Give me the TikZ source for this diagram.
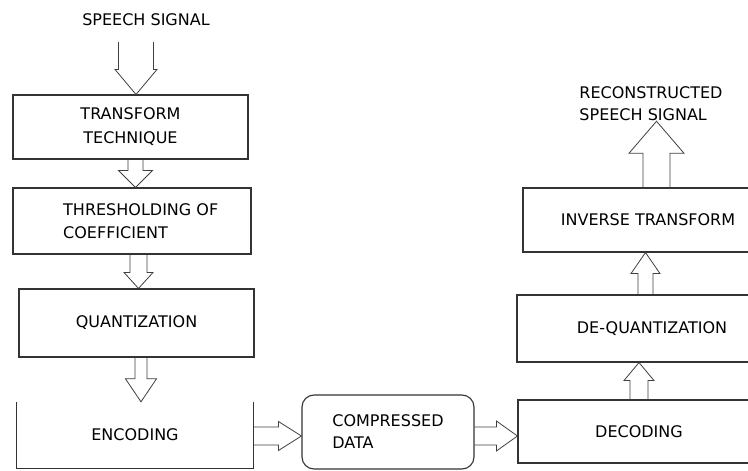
\documentclass[tikz,border=0pt]{standalone}
\usepackage{fontspec}
\setmainfont{DejaVu Sans}
\usetikzlibrary{calc}
\newcommand\lbl{\fontsize{16}{22}\selectfont}
% block arrows: start, end, shaft half width, head half width, head length
\newcommand\blkdown[5]{\draw[blk] let \p1=(#1),\p2=(#2) in
  (\x1-#3pt,\y1)--(\x1-#3pt,\y2+#5pt)--(\x1-#4pt,\y2+#5pt)--(\x1,\y2)
  --(\x1+#4pt,\y2+#5pt)--(\x1+#3pt,\y2+#5pt)--(\x1+#3pt,\y1);}
\newcommand\blkup[5]{\draw[blk] let \p1=(#1),\p2=(#2) in
  (\x1-#3pt,\y1)--(\x1-#3pt,\y2-#5pt)--(\x1-#4pt,\y2-#5pt)--(\x1,\y2)
  --(\x1+#4pt,\y2-#5pt)--(\x1+#3pt,\y2-#5pt)--(\x1+#3pt,\y1);}
\newcommand\blkright[5]{\draw[blk] let \p1=(#1),\p2=(#2) in
  (\x1,\y1+#3pt)--(\x2-#5pt,\y1+#3pt)--(\x2-#5pt,\y1+#4pt)--(\x2,\y1)
  --(\x2-#5pt,\y1-#4pt)--(\x2-#5pt,\y1-#3pt)--(\x1,\y1-#3pt);}
\begin{document}
\begin{tikzpicture}[x=1pt,y=-1pt,
  box/.style={draw=black!80,line width=1.1pt,inner sep=0pt,align=center,font=\lbl,text=black},
  plain/.style={inner sep=0pt,align=center,font=\lbl,text=black},
  edge/.style={draw=black!80,line width=1.1pt},
  blk/.style={draw=black!75,line width=0.8pt,line join=miter}]
\useasboundingbox (0,0) rectangle (748,471);
\clip (0,0) rectangle (748,471);
\fill[white] (0,0) rectangle (748,471);

% left column
\node[plain] (sig) at (146,20) {SPEECH SIGNAL};
\coordinate (s0) at (136,42);
\node[box,minimum width=235pt,minimum height=64pt] (b1) at (130.5,127) {TRANSFORM\\[2pt]TECHNIQUE};
\node[box,minimum width=238pt,minimum height=66pt] (b2) at (132,221) {};
\node[plain,align=left,anchor=west] (b2t) at (63,221) {THRESHOLDING OF\\[1pt]COEFFICIENT};
\node[box,minimum width=235pt,minimum height=68pt] (b3) at (136.5,323) {QUANTIZATION};
\node[plain,minimum width=236pt,minimum height=66pt] (b4) at (135,435) {ENCODING};
\draw[edge] (b4.north west) -- (b4.south west) -- (b4.south east) -- (b4.north east);

% middle
\node[box,rounded corners=12pt,minimum width=172pt,minimum height=74pt,align=left] (cd) at (388,432) {COMPRESSED\\DATA};

% right column
\node[box,minimum width=242pt,minimum height=63pt] (dec) at (639,431.5) {DECODING};
\node[box,minimum width=270pt,minimum height=67pt] (dq) at (652,328.5) {DE-QUANTIZATION};
\node[box,minimum width=250pt,minimum height=64pt] (inv) at (648,220) {INVERSE TRANSFORM};
\node[plain,align=left] (rec) at (651,104) {RECONSTRUCTED\\SPEECH SIGNAL};

% block arrows
\blkdown{s0}{b1.north}{17.5}{21}{25}
\blkdown{$(b1.south)+(5,0)$}{b2.north}{7.5}{17}{17}
\blkdown{$(b2.south)+(6.5,0)$}{b3.north}{8.5}{14.5}{16}
\blkdown{$(b3.south)+(4.5,0)$}{b4.north}{6}{15.5}{23}
\blkright{$(b4.east)+(0,1)$}{cd.west}{9}{14.5}{23}
\blkright{$(cd.east)+(0,4)$}{dec.west}{9}{15}{21}
\blkup{dec.north}{dq.south}{9}{15}{18}
\blkup{$(dq.north)+(-6.5,0)$}{inv.south}{7.5}{14.5}{21}
\blkup{$(inv.north)+(8.5,0)$}{rec.south}{13.5}{27.5}{32}
\end{tikzpicture}
\end{document}
